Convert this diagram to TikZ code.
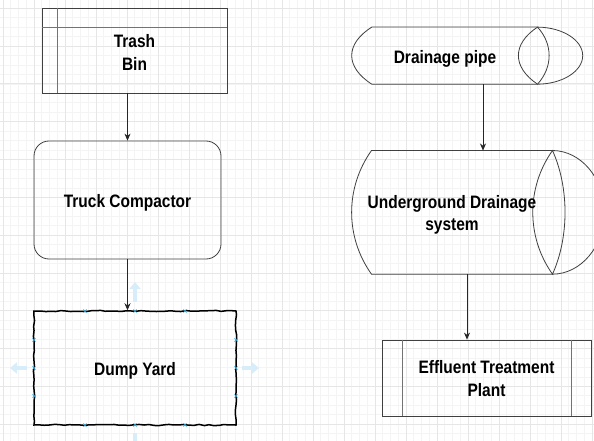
\documentclass[tikz,border=0pt]{standalone}
\usepackage{fontspec}
\usepackage{xcolor}
\usepackage{tikz}
\usetikzlibrary{arrows.meta,decorations.pathmorphing,positioning}
\newfontfamily\diafont{Liberation Sans}[FakeStretch=0.86]
\definecolor{gridminor}{RGB}{244,244,244}
\definecolor{gridmajor}{RGB}{230,230,230}
\definecolor{handleblue}{RGB}{216,237,250}
\definecolor{selblue}{RGB}{41,169,224}
\tikzset{
  flow/.style={->,>={Stealth[length=7pt,width=6pt]},draw=black!85,line width=0.7pt},
  shapeline/.style={draw=black!75,line width=0.8pt},
  innerline/.style={draw=black!55,line width=0.8pt},
  box/.style={rectangle,inner sep=0pt},
  textlabel/.style={align=center,inner sep=0pt,
    font=\diafont\bfseries\fontsize{18}{22.5}\selectfont},
  storage/.style={box,shapeline},
  process/.style={box,shapeline,rounded corners=15pt},
  sketchy/.style={box,draw=black,line width=1.5pt,decorate,
    decoration={random steps,segment length=5pt,amplitude=0.6pt}},
  subprocess/.style={box,shapeline},
  minorgrid/.style={draw=gridminor,line width=0.6pt},
  majorgrid/.style={draw=gridmajor,line width=0.8pt},
  handle/.style={line width=4pt,draw=handleblue,-{Triangle[length=7pt,width=11pt]}},
  selmark/.style={draw=selblue,line width=0.6pt}
}
\begin{document}
\begin{tikzpicture}[x=1pt,y=-1pt]
  \useasboundingbox (0,0) rectangle (594,441);
  \clip (0,0) rectangle (594,441);
  \fill[white] (0,0) rectangle (594,441);
  % background grid
  \foreach \i in {0,...,76} \draw[minorgrid] ({3+7.75*\i},0) -- ++(0,441);
  \foreach \j in {0,...,45} \draw[minorgrid] (0,{8.3+9.45*\j}) -- ++(594,0);
  \foreach \i in {0,...,19} \draw[majorgrid] ({3+31*\i},0) -- ++(0,441);
  \foreach \j in {0,...,11} \draw[majorgrid] (0,{8.3+37.8*\j}) -- ++(594,0);

  % left column
  \node[storage,minimum width=185pt,minimum height=85pt] (bin) at (134.5,50.5) {};
  \draw[innerline] ([xshift=16pt]bin.north west) -- ([xshift=16pt]bin.south west);
  \draw[innerline] ([yshift=-20pt]bin.north west) -- ([yshift=-20pt]bin.north east);
  \node[textlabel] (bintext) at ([yshift=-2pt]bin.center) {Trash\\Bin};
  \node[process,minimum width=187pt,minimum height=118pt] (truck) at (127.5,200) {};
  \node[textlabel] (trucktext) at ([yshift=-3pt]truck.center) {Truck Compactor};
  \pgfmathsetseed{7}
  \node[sketchy,minimum width=202pt,minimum height=114pt] (yard) at (135,368) {};
  \node[textlabel] (yardtext) at ([yshift=-2.5pt]yard.center) {Dump Yard};

  % selection handles round the dump yard
  \draw[handle] (135,302) -- (135,282);
  \draw[handle] (27,368) -- (10,368);
  \draw[handle] (242,368) -- (259,368);
  \draw[handle] (135,433) -- (135,452);
  \foreach \x/\y in {85/311,135/311,185/311,85/425,135/425,185/425,
                     34/340,34/368,34/396,236/340,236/368,236/396}
    \draw[selmark] (\x-1.6,\y-1.6) -- (\x+1.6,\y+1.6) (\x-1.6,\y+1.6) -- (\x+1.6,\y-1.6);

  \draw[flow] (truck.north |- bin.south) -- (truck.north);
  \draw[flow] (truck.south) -- (truck.south |- yard.north);

  % right column
  \node[box,minimum width=165.3pt,minimum height=56.7pt] (pipe) at (454.65,55.65) {};
  \draw[shapeline] (pipe.north west) -- (pipe.north east)
    .. controls (562.4,27.3) and (582.7,40) .. (582.7,55.6)
    .. controls (582.7,71.3) and (562.4,84) .. (pipe.south east) -- (pipe.south west)
    .. controls (345,67) and (345,44) .. cycle;
  \draw[shapeline] (pipe.north east) .. controls (512,44) and (512,67) .. (pipe.south east)
    .. controls (553,67) and (553,44) .. cycle;
  \node[textlabel] (pipetext) at (445,58.5) {Drainage pipe};

  \node[box,minimum width=180.6pt,minimum height=123.3pt] (tank) at (462,212.35) {};
  \draw[shapeline] (tank.north west) -- (tank.north east)
    .. controls (581,150.7) and (604.3,178.3) .. (604.3,212.35)
    .. controls (604.3,246.4) and (581,274) .. (tank.south east) -- (tank.south west)
    .. controls (345,237) and (345,187.7) .. cycle;
  \draw[shapeline] (tank.north east) .. controls (526.2,187.7) and (526.2,237) .. (tank.south east)
    .. controls (569.2,237) and (569.2,187.7) .. cycle;
  \node[textlabel] (tanktext) at (452,215) {Underground Drainage\\system};

  \node[subprocess,minimum width=209pt,minimum height=76pt] (plant) at (486.5,378) {};
  \draw[innerline] ([xshift=21pt]plant.north west) -- ([xshift=21pt]plant.south west);
  \draw[innerline] ([xshift=-20pt]plant.north east) -- ([xshift=-20pt]plant.south east);
  \node[textlabel] (planttext) at ([yshift=-0.5pt]plant.center) {Effluent Treatment\\Plant};

  \draw[flow] ([xshift=28.35pt]pipe.south) -- ([xshift=28.35pt]pipe.south |- tank.north);
  \draw[flow] ([xshift=5pt]tank.south) -- ([xshift=5pt]tank.south |- plant.north);
\end{tikzpicture}
\end{document}
